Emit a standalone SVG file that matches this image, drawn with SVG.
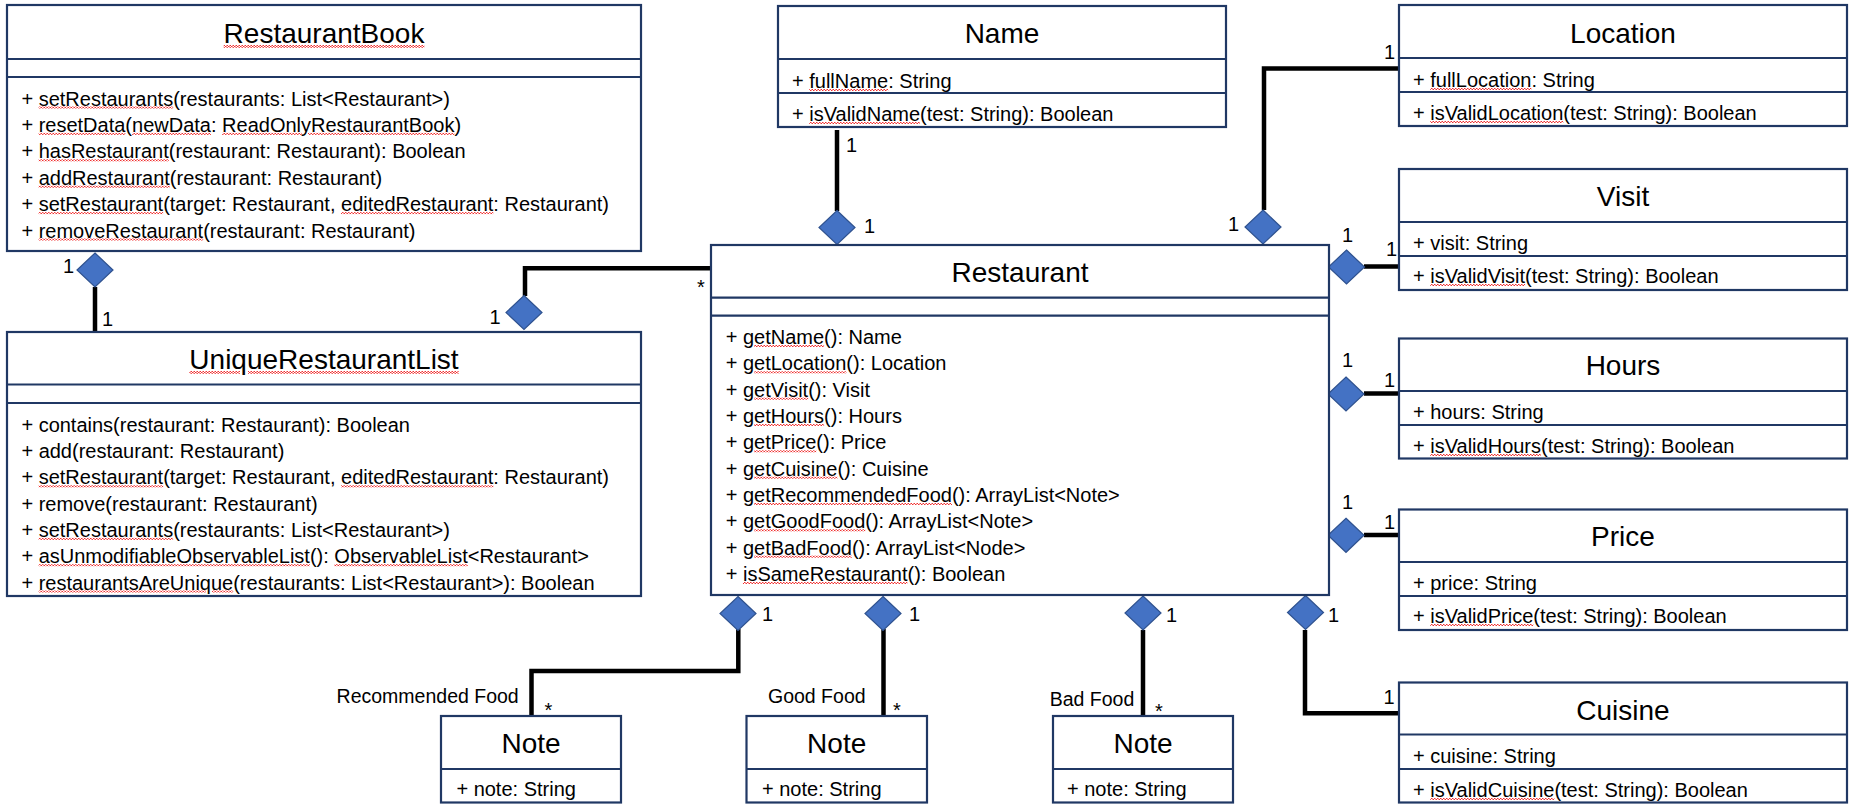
<svg xmlns="http://www.w3.org/2000/svg" xmlns:xlink="http://www.w3.org/1999/xlink" width="1855" height="810" viewBox="0 0 1855 810">
<style>
.box{fill:#fff;stroke:#203864;stroke-width:2.2}
.dv{stroke:#203864;stroke-width:2.2}
.t{font-family:"Liberation Sans",Arial,sans-serif;font-size:20px;fill:#000}
.lb{font-family:"Liberation Sans",Arial,sans-serif;font-size:19.5px;fill:#000}
.ttl{font-size:28px;text-anchor:middle}
.dm{fill:#4472C4;stroke:#2F528F;stroke-width:1.2}
.cn{fill:none;stroke:#000;stroke-width:4.5}
.sq{fill:url(#wave);text-decoration:underline;text-decoration-thickness:2px}
.k{fill:#000}
</style>
<defs>
<path id="dia" d="M0,-17 L18,0 L0,17 L-18,0Z"/>
<pattern id="wave" patternUnits="userSpaceOnUse" width="3" height="2">
<rect x="0" y="0" width="1.5" height="1" fill="#f03030"/>
<rect x="1.5" y="1" width="1.5" height="1" fill="#f03030"/>
</pattern>
</defs>
<rect width="1855" height="810" fill="#fff"/>

<g id="connectors">
<path class="cn" d="M837,130 V211"/>
<path class="cn" d="M1264,210 V68.5 H1399"/>
<path class="cn" d="M95,287 V332"/>
<path class="cn" d="M525,296 V268.3 H711"/>
<path class="cn" d="M1364,266.5 H1399"/>
<path class="cn" d="M1364,393.5 H1399"/>
<path class="cn" d="M1364,535 H1399"/>
<path class="cn" d="M1305,630 V713.3 H1399"/>
<path class="cn" d="M1143,630 V716"/>
<path class="cn" d="M883.5,629 V716"/>
<path class="cn" d="M738.3,629 V671 H531.5 V716"/>
<use href="#dia" class="dm" x="837" y="227.5"/>
<use href="#dia" class="dm" x="1263" y="227"/>
<use href="#dia" class="dm" x="95" y="270"/>
<use href="#dia" class="dm" x="524" y="312.5"/>
<use href="#dia" class="dm" x="1346.5" y="267"/>
<use href="#dia" class="dm" x="1346" y="394"/>
<use href="#dia" class="dm" x="1346" y="535.3"/>
<use href="#dia" class="dm" x="1305.5" y="612.5"/>
<use href="#dia" class="dm" x="1143" y="613"/>
<use href="#dia" class="dm" x="883" y="613.5"/>
<use href="#dia" class="dm" x="738" y="613.5"/>
<text class="t" x="846" y="151.7">1</text>
<text class="t" x="864" y="233">1</text>
<text class="t" x="1384" y="59">1</text>
<text class="t" x="1228" y="231">1</text>
<text class="t" x="63" y="273">1</text>
<text class="t" x="102" y="326">1</text>
<text class="t" x="489.5" y="324">1</text>
<text class="t" x="697" y="294">*</text>
<text class="t" x="1342" y="242">1</text>
<text class="t" x="1386" y="256">1</text>
<text class="t" x="1342" y="367">1</text>
<text class="t" x="1384" y="386.7">1</text>
<text class="t" x="1342" y="509">1</text>
<text class="t" x="1384" y="529">1</text>
<text class="t" x="1328" y="622">1</text>
<text class="t" x="1383.5" y="704">1</text>
<text class="t" x="1166" y="622">1</text>
<text class="lb" x="1049.7" y="706">Bad Food</text>
<text class="t" x="1155" y="718">*</text>
<text class="t" x="909" y="620.7">1</text>
<text class="lb" x="768" y="703">Good Food</text>
<text class="t" x="893" y="716.5">*</text>
<text class="t" x="762" y="620.7">1</text>
<text class="lb" x="336.6" y="703.3">Recommended Food</text>
<text class="t" x="544.6" y="716.5">*</text>
</g>

<g id="RestaurantBook">
<rect class="box" x="7" y="5" width="634" height="246"/>
<line class="dv" x1="7" y1="59" x2="641" y2="59"/>
<line class="dv" x1="7" y1="77" x2="641" y2="77"/>
<text class="t ttl" x="324" y="43"><tspan class="sq"><tspan class="k">RestaurantBook</tspan></tspan></text>
<text class="t" x="21.4" y="105.5">+ <tspan class="sq"><tspan class="k">setRestaurants</tspan></tspan>(restaurants: List&lt;Restaurant&gt;)</text>
<text class="t" x="21.4" y="131.9">+ <tspan class="sq"><tspan class="k">resetData</tspan></tspan>(<tspan class="sq"><tspan class="k">newData</tspan></tspan>: <tspan class="sq"><tspan class="k">ReadOnlyRestaurantBook</tspan></tspan>)</text>
<text class="t" x="21.4" y="158.3">+ <tspan class="sq"><tspan class="k">hasRestaurant</tspan></tspan>(restaurant: Restaurant): Boolean</text>
<text class="t" x="21.4" y="184.7">+ <tspan class="sq"><tspan class="k">addRestaurant</tspan></tspan>(restaurant: Restaurant)</text>
<text class="t" x="21.4" y="211.1">+ <tspan class="sq"><tspan class="k">setRestaurant</tspan></tspan>(target: Restaurant, <tspan class="sq"><tspan class="k">editedRestaurant</tspan></tspan>: Restaurant)</text>
<text class="t" x="21.4" y="237.5">+ <tspan class="sq"><tspan class="k">removeRestaurant</tspan></tspan>(restaurant: Restaurant)</text>
</g>

<g id="UniqueRestaurantList">
<rect class="box" x="7" y="332" width="634" height="264"/>
<line class="dv" x1="7" y1="384.5" x2="641" y2="384.5"/>
<line class="dv" x1="7" y1="403" x2="641" y2="403"/>
<text class="t ttl" x="324" y="369"><tspan class="sq"><tspan class="k">UniqueRestaurantList</tspan></tspan></text>
<text class="t" x="21.4" y="431.7">+ contains(restaurant: Restaurant): Boolean</text>
<text class="t" x="21.4" y="458">+ add(restaurant: Restaurant)</text>
<text class="t" x="21.4" y="484.3">+ <tspan class="sq"><tspan class="k">setRestaurant</tspan></tspan>(target: Restaurant, <tspan class="sq"><tspan class="k">editedRestaurant</tspan></tspan>: Restaurant)</text>
<text class="t" x="21.4" y="510.6">+ remove(restaurant: Restaurant)</text>
<text class="t" x="21.4" y="536.9">+ <tspan class="sq"><tspan class="k">setRestaurants</tspan></tspan>(restaurants: List&lt;Restaurant&gt;)</text>
<text class="t" x="21.4" y="563.2">+ <tspan class="sq"><tspan class="k">asUnmodifiableObservableList</tspan></tspan>(): <tspan class="sq"><tspan class="k">ObservableList</tspan></tspan>&lt;Restaurant&gt;</text>
<text class="t" x="21.4" y="589.5">+ <tspan class="sq"><tspan class="k">restaurantsAreUnique</tspan></tspan>(restaurants: List&lt;Restaurant&gt;): Boolean</text>
</g>

<g id="Name">
<rect class="box" x="778" y="6" width="448" height="121"/>
<line class="dv" x1="778" y1="59" x2="1226" y2="59"/>
<line class="dv" x1="778" y1="93" x2="1226" y2="93"/>
<text class="t ttl" x="1002" y="43">Name</text>
<text class="t" x="792" y="88">+ <tspan class="sq"><tspan class="k">fullName</tspan></tspan>: String</text>
<text class="t" x="792" y="121">+ <tspan class="sq"><tspan class="k">isValidName</tspan></tspan>(test: String): Boolean</text>
</g>

<g id="Location">
<rect class="box" x="1399" y="5" width="448" height="121"/>
<line class="dv" x1="1399" y1="58" x2="1847" y2="58"/>
<line class="dv" x1="1399" y1="92" x2="1847" y2="92"/>
<text class="t ttl" x="1623" y="43">Location</text>
<text class="t" x="1413" y="87">+ <tspan class="sq"><tspan class="k">fullLocation</tspan></tspan>: String</text>
<text class="t" x="1413" y="120">+ <tspan class="sq"><tspan class="k">isValidLocation</tspan></tspan>(test: String): Boolean</text>
</g>

<g id="Visit">
<rect class="box" x="1399" y="169" width="448" height="121"/>
<line class="dv" x1="1399" y1="222" x2="1847" y2="222"/>
<line class="dv" x1="1399" y1="256" x2="1847" y2="256"/>
<text class="t ttl" x="1623" y="206">Visit</text>
<text class="t" x="1413" y="250">+ visit: String</text>
<text class="t" x="1413" y="283">+ <tspan class="sq"><tspan class="k">isValidVisit</tspan></tspan>(test: String): Boolean</text>
</g>

<g id="Hours">
<rect class="box" x="1399" y="338.5" width="448" height="120"/>
<line class="dv" x1="1399" y1="391" x2="1847" y2="391"/>
<line class="dv" x1="1399" y1="425" x2="1847" y2="425"/>
<text class="t ttl" x="1623" y="375">Hours</text>
<text class="t" x="1413" y="419">+ hours: String</text>
<text class="t" x="1413" y="453">+ <tspan class="sq"><tspan class="k">isValidHours</tspan></tspan>(test: String): Boolean</text>
</g>

<g id="Price">
<rect class="box" x="1399" y="509.5" width="448" height="120.5"/>
<line class="dv" x1="1399" y1="562" x2="1847" y2="562"/>
<line class="dv" x1="1399" y1="596" x2="1847" y2="596"/>
<text class="t ttl" x="1623" y="546">Price</text>
<text class="t" x="1413" y="590">+ price: String</text>
<text class="t" x="1413" y="623">+ <tspan class="sq"><tspan class="k">isValidPrice</tspan></tspan>(test: String): Boolean</text>
</g>

<g id="Cuisine">
<rect class="box" x="1399" y="682.5" width="448" height="120"/>
<line class="dv" x1="1399" y1="734.5" x2="1847" y2="734.5"/>
<line class="dv" x1="1399" y1="769" x2="1847" y2="769"/>
<text class="t ttl" x="1623" y="720">Cuisine</text>
<text class="t" x="1413" y="763">+ cuisine: String</text>
<text class="t" x="1413" y="797">+ <tspan class="sq"><tspan class="k">isValidCuisine</tspan></tspan>(test: String): Boolean</text>
</g>

<g id="Restaurant">
<rect class="box" x="711" y="245" width="618" height="350"/>
<line class="dv" x1="711" y1="297.7" x2="1329" y2="297.7"/>
<line class="dv" x1="711" y1="315.7" x2="1329" y2="315.7"/>
<text class="t ttl" x="1020" y="281.7">Restaurant</text>
<text class="t" x="725.7" y="344">+ <tspan class="sq"><tspan class="k">getName</tspan></tspan>(): Name</text>
<text class="t" x="725.7" y="370.3">+ <tspan class="sq"><tspan class="k">getLocation</tspan></tspan>(): Location</text>
<text class="t" x="725.7" y="396.7">+ <tspan class="sq"><tspan class="k">getVisit</tspan></tspan>(): Visit</text>
<text class="t" x="725.7" y="423">+ <tspan class="sq"><tspan class="k">getHours</tspan></tspan>(): Hours</text>
<text class="t" x="725.7" y="449.3">+ <tspan class="sq"><tspan class="k">getPrice</tspan></tspan>(): Price</text>
<text class="t" x="725.7" y="475.7">+ <tspan class="sq"><tspan class="k">getCuisine</tspan></tspan>(): Cuisine</text>
<text class="t" x="725.7" y="502">+ <tspan class="sq"><tspan class="k">getRecommendedFood</tspan></tspan>(): ArrayList&lt;Note&gt;</text>
<text class="t" x="725.7" y="528.3">+ <tspan class="sq"><tspan class="k">getGoodFood</tspan></tspan>(): ArrayList&lt;Note&gt;</text>
<text class="t" x="725.7" y="554.7">+ <tspan class="sq"><tspan class="k">getBadFood</tspan></tspan>(): ArrayList&lt;Node&gt;</text>
<text class="t" x="725.7" y="581">+ <tspan class="sq"><tspan class="k">isSameRestaurant</tspan></tspan>(): Boolean</text>
</g>

<g id="NoteRecommended">
<rect class="box" x="441" y="716" width="180" height="86.5"/>
<line class="dv" x1="441" y1="769" x2="621" y2="769"/>
<text class="t ttl" x="531" y="753.3">Note</text>
<text class="t" x="456.4" y="795.7">+ note: String</text>
</g>

<g id="NoteGood">
<rect class="box" x="746.5" y="716" width="180.5" height="86.5"/>
<line class="dv" x1="746.5" y1="769" x2="927" y2="769"/>
<text class="t ttl" x="836.7" y="753.3">Note</text>
<text class="t" x="762" y="795.7">+ note: String</text>
</g>

<g id="NoteBad">
<rect class="box" x="1053" y="716" width="180" height="86.5"/>
<line class="dv" x1="1053" y1="769" x2="1233" y2="769"/>
<text class="t ttl" x="1143" y="753.3">Note</text>
<text class="t" x="1067" y="795.7">+ note: String</text>
</g>
</svg>
